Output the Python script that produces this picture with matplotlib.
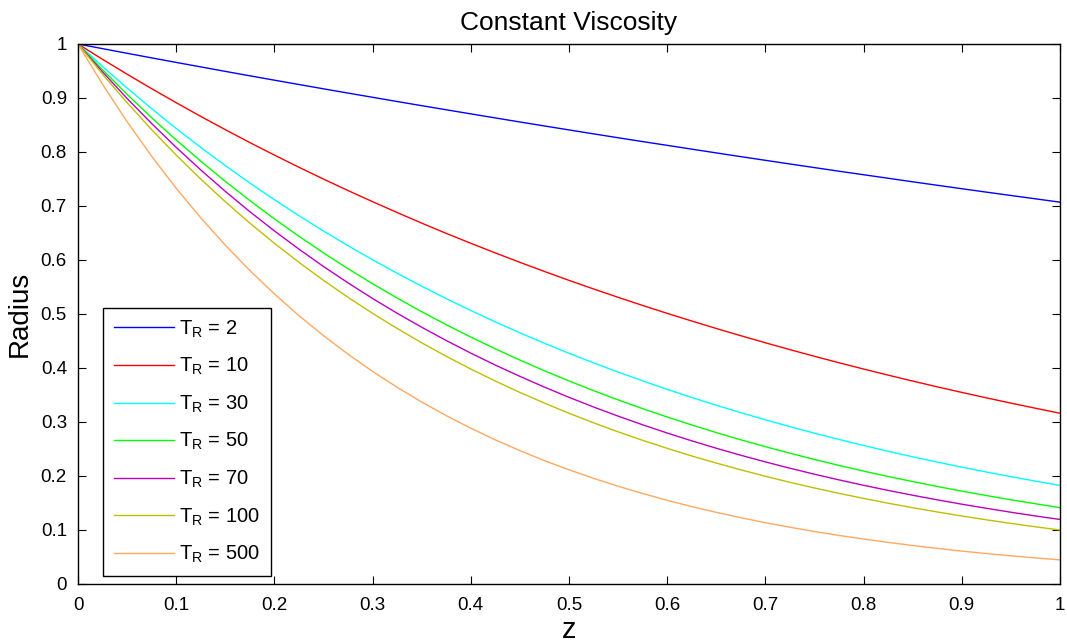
import numpy as np
import matplotlib.pyplot as plt

plt.rcParams['font.family'] = ['Liberation Sans', 'DejaVu Sans']
plt.rcParams['mathtext.fontset'] = 'custom'
plt.rcParams['mathtext.rm'] = 'Liberation Sans'

# values, z step 0.025
z = np.linspace(0, 1, 41)
t_r = [2, 10, 30, 50, 70, 100, 500]
r_2 = [1, 0.9914, 0.9828, 0.9743, 0.9659, 0.9576, 0.9493, 0.9411, 0.9330, 0.9250,
       0.9170, 0.9091, 0.9013, 0.8935, 0.8858, 0.8782, 0.8706, 0.8631, 0.8556, 0.8482,
       0.8409, 0.8336, 0.8264, 0.8193, 0.8123, 0.8053, 0.7983, 0.7914, 0.7846, 0.7778,
       0.7711, 0.7644, 0.7579, 0.7514, 0.7448, 0.7384, 0.7320, 0.7257, 0.7195, 0.7133,
       0.7071]
r_10 = [1, 0.9716, 0.9441, 0.9173, 0.8913, 0.8660, 0.8414, 0.8175, 0.7943, 0.7718,
        0.7499, 0.7286, 0.7080, 0.6879, 0.6683, 0.6493, 0.6310, 0.6131, 0.5957, 0.5788,
        0.5623, 0.5464, 0.5309, 0.5158, 0.5012, 0.4870, 0.4732, 0.4598, 0.4467, 0.4340,
        0.4217, 0.4097, 0.3981, 0.3868, 0.3758, 0.3651, 0.3548, 0.3447, 0.3350, 0.3255,
        0.3162]
r_30 = [1, 0.9584, 0.9185, 0.8803, 0.8436, 0.8085, 0.7749, 0.7426, 0.7117, 0.6821,
        0.6537, 0.6265, 0.6004, 0.5754, 0.5515, 0.5285, 0.5065, 0.4854, 0.4652, 0.4458,
        0.4273, 0.4095, 0.3925, 0.3762, 0.3605, 0.3455, 0.3311, 0.3173, 0.3041, 0.2914,
        0.2793, 0.2677, 0.2565, 0.2458, 0.2356, 0.2258, 0.2164, 0.2074, 0.1988, 0.1905,
        0.1826]
r_50 = [1, 0.9523, 0.9068, 0.8635, 0.8223, 0.7831, 0.7457, 0.7101, 0.6763, 0.6440,
        0.6132, 0.5839, 0.5561, 0.5296, 0.5043, 0.4802, 0.4573, 0.4355, 0.4147, 0.3949,
        0.3761, 0.3581, 0.3410, 0.3247, 0.3093, 0.2945, 0.2804, 0.2670, 0.2543, 0.2422,
        0.2306, 0.2196, 0.2091, 0.1991, 0.1897, 0.1806, 0.1720, 0.1638, 0.1560, 0.1486,
        0.1414]
r_70 = [1, 0.9483, 0.8992, 0.8527, 0.8086, 0.7668, 0.7271, 0.6895, 0.6539, 0.6201,
        0.5880, 0.5576, 0.5287, 0.5014, 0.4755, 0.4509, 0.4275, 0.4054, 0.3845, 0.3646,
        0.3457, 0.3278, 0.3109, 0.2948, 0.2796, 0.2651, 0.2514, 0.2384, 0.2261, 0.2144,
        0.2033, 0.1928, 0.1828, 0.1733, 0.1644, 0.1559, 0.1478, 0.1402, 0.1329, 0.1260,
        0.1195]
r_100 = [1, 0.9441, 0.8913, 0.8414, 0.7943, 0.7499, 0.7079, 0.6683, 0.6310, 0.5957,
         0.5623, 0.5309, 0.5012, 0.4732, 0.4467, 0.4217, 0.3981, 0.3758, 0.3548, 0.3350,
         0.3162, 0.2985, 0.2818, 0.2660, 0.2512, 0.2371, 0.2239, 0.2114, 0.1995, 0.1883,
         0.1778, 0.1679, 0.1585, 0.1496, 0.1413, 0.1334, 0.1259, 0.1189, 0.1122, 0.1059,
         0.1]
r_500 = [1, 0.9253, 0.8561, 0.7921, 0.7329, 0.6781, 0.6275, 0.5806, 0.5372, 0.4970,
         0.4599, 0.4255, 0.3937, 0.3643, 0.3370, 0.3118, 0.2885, 0.2669, 0.2470, 0.2285,
         0.2115, 0.1957, 0.1811, 0.1676, 0.1550, 0.1434, 0.1327, 0.1228, 0.1136, 0.1051,
         0.0972, 0.0899, 0.0833, 0.0771, 0.0713, 0.0660, 0.0610, 0.0564, 0.0522, 0.0483,
         0.0447]
radii = [r_2, r_10, r_30, r_50, r_70, r_100, r_500]
colors = ['#0000ff', '#ff0000', '#00ffff', '#00ff00', '#bf00bf', '#bfbf00', '#ffa860']
tick_labels = ['0', '0.1', '0.2', '0.3', '0.4', '0.5', '0.6', '0.7', '0.8', '0.9', '1']

fig = plt.figure(figsize=(10.67, 6.44), dpi=100)
ax = fig.add_axes([78/1067, 1-584/644, 982/1067, 540/644])
for t, r, c in zip(t_r, radii, colors):
    ax.plot(z, r, color=c, linewidth=1, label=r'$\mathregular{T_R}$ = %d' % t)

ax.set_xlim(0, 1)
ax.set_ylim(0, 1)
ax.set_xticks(np.arange(0, 1.01, 0.1))
ax.set_yticks(np.arange(0, 1.01, 0.1))
ax.set_xticklabels(tick_labels)
ax.set_yticklabels(tick_labels)
ax.tick_params(direction='in', top=True, right=True, labelsize=13.5, length=6)
ax.tick_params(axis='x', pad=9)
ax.tick_params(axis='y', pad=8)
for s in ax.spines.values():
    s.set_linewidth(1)
ax.set_title('Constant Viscosity', fontsize=19, pad=10)
ax.set_xlabel('z', fontsize=21, labelpad=2)
ax.set_ylabel('Radius', fontsize=20, labelpad=6)
leg = ax.legend(loc='lower left', bbox_to_anchor=(25/982, 8/540), borderaxespad=0,
                fontsize=14.5, fancybox=False, edgecolor='black', framealpha=1,
                handlelength=3.0, handletextpad=0.25, labelspacing=0.81,
                borderpad=0.53)
leg.get_frame().set_linewidth(1)

fig.savefig('out.png', dpi=100)
